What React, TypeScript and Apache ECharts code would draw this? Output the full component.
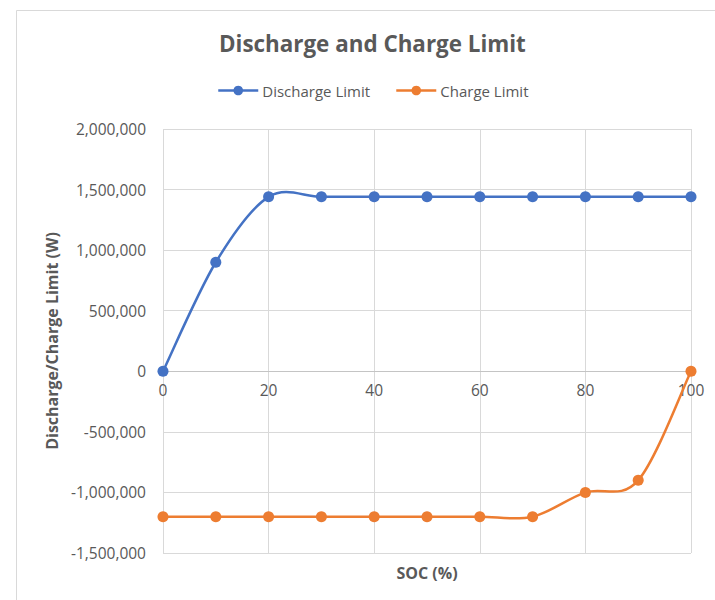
import React, { useEffect, useRef } from "react";
import * as echarts from "echarts";

const socValues = [0, 10, 20, 30, 40, 50, 60, 70, 80, 90, 100];
const dischargeLimit = [0, 900000, 1440000, 1440000, 1440000, 1440000, 1440000, 1440000, 1440000, 1440000, 1440000];
const chargeLimit = [-1200000, -1200000, -1200000, -1200000, -1200000, -1200000, -1200000, -1200000, -1000000, -900000, 0];
const seriesNames = ["Discharge Limit", "Charge Limit"];
const seriesColors = ["#4472C4", "#ED7D31"];

const FONT = "'Open Sans', 'Noto Sans', sans-serif";
const TXT = "#595959";

// Smooth curve through the points (Excel-like Catmull-Rom Bezier), positions from the axes' scales
function smoothRenderer(xs: number[], ys: number[], color: string) {
  return (params: any, api: any) => {
    if (params.dataIndex !== 0) return null;
    const p = xs.map((x, i) => api.coord([x, ys[i]]));
    const n = p.length;
    const children: any[] = [];
    for (let i = 0; i < n - 1; i++) {
      const p0 = p[Math.max(i - 1, 0)];
      const p1 = p[i];
      const p2 = p[i + 1];
      const p3 = p[Math.min(i + 2, n - 1)];
      children.push({
        type: "bezierCurve",
        shape: {
          x1: p1[0],
          y1: p1[1],
          x2: p2[0],
          y2: p2[1],
          cpx1: p1[0] + (p2[0] - p0[0]) / 6,
          cpy1: p1[1] + (p2[1] - p0[1]) / 6,
          cpx2: p2[0] - (p3[0] - p1[0]) / 6,
          cpy2: p2[1] - (p3[1] - p1[1]) / 6,
        },
        style: { stroke: color, lineWidth: 2.5, fill: "none", lineCap: "round" },
      });
    }
    return { type: "group", children };
  };
}

export default function App() {
  const ref = useRef<HTMLDivElement>(null);
  useEffect(() => {
    if (!ref.current) return;
    const chart = echarts.init(ref.current, undefined, { renderer: "svg" });
    const pair = (ys: number[]) => socValues.map((x, i) => [x, ys[i]]);
    const yMin = -1500000;
    const yMax = 2000000;
    const gridTop = 129;
    const gridBottom = 47;
    const plotH = 600 - gridTop - gridBottom;
    const zeroOffset = -(plotH * (0 - yMin)) / (yMax - yMin);
    chart.setOption({
      animation: false,
      backgroundColor: "#fff",
      title: {
        text: "Discharge and Charge Limit",
        left: 214,
        top: 27,
        textStyle: { fontFamily: FONT, fontSize: 22.4, fontWeight: "bold", color: TXT },
      },
      legend: {
        top: 78,
        left: 212,
        itemWidth: 40,
        itemHeight: 12,
        itemGap: 25,
        textStyle: { fontFamily: FONT, fontSize: 15, color: TXT, padding: [0, 0, 0, -1] },
        lineStyle: { opacity: 1, width: 2.5 },
        data: seriesNames,
      },
      graphic: [
        {
          type: "rect",
          shape: { x: 16.5, y: 10.5, width: 800, height: 700 },
          style: { fill: "none", stroke: "#d9d9d9", lineWidth: 1 },
          silent: true,
        },
        {
          type: "text",
          x: 427,
          y: 573,
          style: {
            text: "SOC (%)",
            fontFamily: FONT,
            fontSize: 16,
            fontWeight: "bold",
            fill: TXT,
            textAlign: "center",
            textVerticalAlign: "middle",
          },
        },
      ],
      grid: { left: 163, right: 24, top: gridTop, bottom: gridBottom },
      xAxis: {
        type: "value",
        min: 0,
        max: 100,
        interval: 20,
        position: "bottom",
        offset: zeroOffset,
        axisLine: { onZero: false, lineStyle: { color: "#c4c4c4", width: 1 } },
        axisTick: { show: false },
        axisLabel: { fontFamily: FONT, fontSize: 15.5, color: TXT, margin: 11 },
        splitLine: { show: true, lineStyle: { color: "#d9d9d9", width: 1 } },
      },
      yAxis: {
        type: "value",
        min: yMin,
        max: yMax,
        interval: 500000,
        name: "Discharge/Charge Limit (W)",
        nameLocation: "middle",
        nameGap: 100,
        nameTextStyle: { fontFamily: FONT, fontSize: 16, fontWeight: "bold", color: TXT },
        axisLine: { show: false },
        axisTick: { show: false },
        axisLabel: {
          fontFamily: FONT,
          fontSize: 15.5,
          color: TXT,
          margin: 17,
          formatter: (v: number) => v.toLocaleString("en-US"),
        },
        splitLine: { show: true, lineStyle: { color: "#d9d9d9", width: 1 } },
      },
      series: [
        {
          type: "custom",
          name: "curve-discharge",
          data: pair(dischargeLimit),
          encode: { x: 0, y: 1 },
          renderItem: smoothRenderer(socValues, dischargeLimit, seriesColors[0]),
          z: 2,
          silent: true,
        },
        {
          type: "custom",
          name: "curve-charge",
          data: pair(chargeLimit),
          encode: { x: 0, y: 1 },
          renderItem: smoothRenderer(socValues, chargeLimit, seriesColors[1]),
          z: 2,
          silent: true,
        },
        {
          name: seriesNames[0],
          type: "line",
          data: pair(dischargeLimit),
          symbol: "circle",
          symbolSize: 11,
          z: 3,
          itemStyle: { color: seriesColors[0] },
          lineStyle: { color: seriesColors[0], width: 2.5, opacity: 0 },
        },
        {
          name: seriesNames[1],
          type: "line",
          data: pair(chargeLimit),
          symbol: "circle",
          symbolSize: 11,
          z: 3,
          itemStyle: { color: seriesColors[1] },
          lineStyle: { color: seriesColors[1], width: 2.5, opacity: 0 },
        },
      ],
    });
    return () => chart.dispose();
  }, []);
  return <div ref={ref} style={{ width: 715, height: 600, position: "absolute", left: 0, top: 0 }} />;
}
